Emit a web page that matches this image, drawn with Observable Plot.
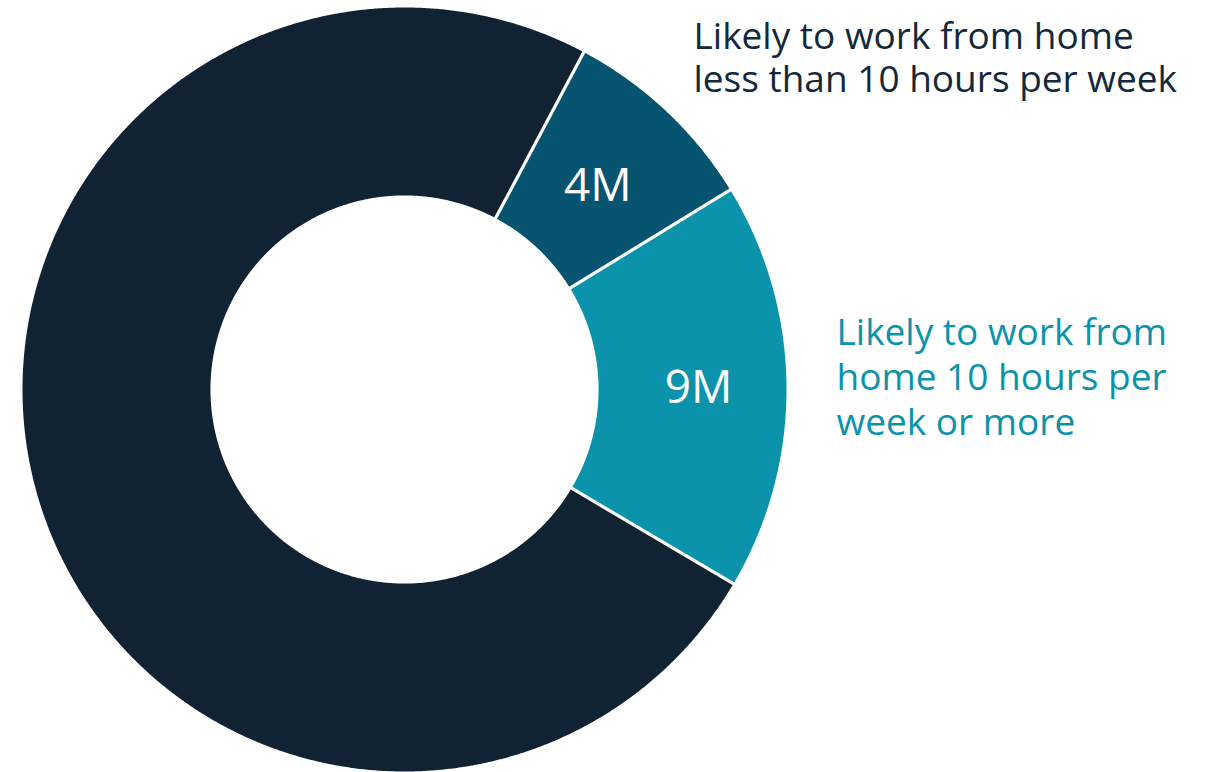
<!DOCTYPE html>
<html>
<head>
<meta charset="utf-8">
<script src="https://cdn.jsdelivr.net/npm/d3@7"></script>
<script src="https://cdn.jsdelivr.net/npm/@observablehq/plot@0.6"></script>
<style>
  html, body { margin: 0; padding: 0; background: #ffffff; }
  #chart svg { display: block; }
</style>
</head>
<body>
<div id="chart"></div>
<script>
// ---- data ----
const categories = [
  "Likely to work from home less than 10 hours per week",
  "Likely to work from home 10 hours per week or more",
  "Other workers"
];
const values = [4.3, 8.75, 37.7];           // millions
const valueLabels = ["4M", "9M", ""];
const colors = ["#065470", "#0b93ab", "#112233"];
const sideLabels = [
  "Likely to work from home\nless than 10 hours per week",
  "Likely to work from\nhome 10 hours per\nweek or more"
];
const sideLabelColors = ["#13283a", "#0b93ab"];

// ---- geometry (derived from values) ----
const W = 1206, H = 772;
const cx = 404, cy = 389, R = 382;      // pixel centre / outer radius
const inner = 0.508;                     // inner radius as fraction of outer
const startDeg = 28;                     // first slice starts at 28° clockwise from north
const total = d3.sum(values);

const slices = [];
let acc = 0;
values.forEach((v, i) => {
  const a0 = (startDeg + acc / total * 360) * Math.PI / 180;
  acc += v;
  const a1 = (startDeg + acc / total * 360) * Math.PI / 180;
  slices.push({cat: categories[i], value: v, label: valueLabels[i], a0, a1});
});

const polyPts = [];
slices.forEach(s => {
  const n = Math.max(8, Math.ceil((s.a1 - s.a0) / 0.005));
  for (let k = 0; k <= n; k++) {
    const a = s.a0 + (s.a1 - s.a0) * k / n;
    polyPts.push({cat: s.cat, x: Math.sin(a), y: Math.cos(a)});
  }
  for (let k = n; k >= 0; k--) {
    const a = s.a0 + (s.a1 - s.a0) * k / n;
    polyPts.push({cat: s.cat, x: inner * Math.sin(a), y: inner * Math.cos(a)});
  }
});

const seps = slices.map(s => ({
  x1: inner * 0.98 * Math.sin(s.a0), y1: inner * 0.98 * Math.cos(s.a0),
  x2: 1.01 * Math.sin(s.a0), y2: 1.01 * Math.cos(s.a0)
}));

const mid = (inner + 1) / 2;
const labelNudge = [[-4, 7], [6, 1]];   // small pixel nudges for the in-slice labels
const labelPts = slices.filter(s => s.label).map((s, i) => {
  const a = (s.a0 + s.a1) / 2;
  return {label: s.label, x: mid * Math.sin(a), y: mid * Math.cos(a), i};
});

const chart = Plot.plot({
  width: W,
  height: H,
  margin: 0,
  style: {fontFamily: "'Open Sans', sans-serif", background: "#ffffff"},
  x: {domain: [-cx / R, (W - cx) / R], range: [0, W], axis: null},
  y: {domain: [-(H - cy) / R, cy / R], range: [H, 0], axis: null},
  color: {domain: categories, range: colors},
  marks: [
    Plot.line(polyPts, {x: "x", y: "y", z: "cat", fill: "cat", stroke: "none", curve: "linear-closed"}),
    Plot.link(seps, {x1: "x1", y1: "y1", x2: "x2", y2: "y2", stroke: "#ffffff", strokeWidth: 3.2}),
    ...labelPts.map(p => Plot.text([p], {
      x: "x", y: "y", text: "label", fill: "#ffffff", fontSize: 46, fontWeight: 400,
      dx: labelNudge[p.i][0], dy: labelNudge[p.i][1]
    })),
    Plot.text([sideLabels[0]], {
      frameAnchor: "top-left", dx: 693, dy: 18, text: d => d,
      textAnchor: "start", lineAnchor: "top", lineHeight: 1.16,
      fontSize: 37, fill: sideLabelColors[0]
    }),
    Plot.text([sideLabels[1]], {
      frameAnchor: "top-left", dx: 836, dy: 313, text: d => d,
      textAnchor: "start", lineAnchor: "top", lineHeight: 1.21,
      fontSize: 37, fill: sideLabelColors[1]
    })
  ]
});
document.getElementById("chart").appendChild(chart);
</script>
</body>
</html>
